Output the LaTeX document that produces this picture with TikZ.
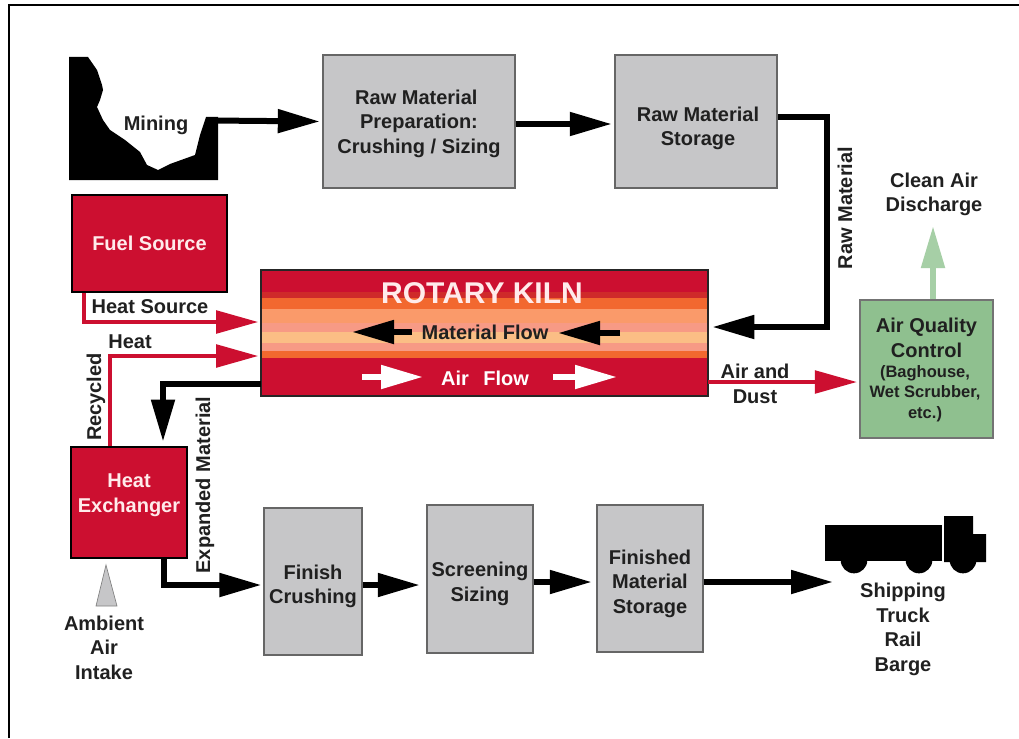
\documentclass[tikz,border=0pt]{standalone}
\usepackage{xcolor}
\usepackage{fontspec}
\setmainfont{Liberation Sans}
\usetikzlibrary{arrows.meta,positioning,calc}
\definecolor{kilnred}{HTML}{CC0F30}
\definecolor{kilndark}{HTML}{CF2A2A}
\definecolor{kilnorange}{HTML}{F2682F}
\definecolor{kilnlight}{HTML}{FA9A6A}
\definecolor{kilnsalmon}{HTML}{F79A85}
\definecolor{kilnpeach}{HTML}{FBBE85}
\definecolor{boxgray}{HTML}{C6C6C8}
\definecolor{boxgreen}{HTML}{8FC08F}
\definecolor{airgreen}{HTML}{A6CFA6}
\definecolor{inkdark}{HTML}{202020}

\begin{document}
\begin{tikzpicture}[
  x=0.75pt,y=-0.75pt,
  every node/.style={font=\fontsize{15}{18.4}\selectfont\bfseries,text=inkdark,align=center,inner sep=0pt},
  graybox/.style={draw=black!60,line width=0.8pt,fill=boxgray,minimum width=#1},
  redbox/.style={draw=black,line width=2pt,fill=kilnred,text=white!92!red,minimum width=#1},
  sink/.style={execute at begin node=\rule{0pt}{#1}},
  lift/.style={execute at end node=\rule[-#1]{0pt}{0pt}},
  flow/.style={line width=4.5pt,draw=black,-{Triangle[length=31.5pt,width=17pt]}},
  heatflow/.style={line width=2.6pt,draw=kilnred,-{Triangle[length=31.5pt,width=17pt]}},
  airflow/.style={flow,draw=#1},
  gap/.style={shorten >=#1}
]
\useasboundingbox (0,0) rectangle (1019,738);
\fill[white] (0,0) rectangle (1019,738);
% frame
\draw[line width=1.6pt] (9,738) -- (9,5) -- (1019,5);

% mining cut
\fill[black] (69,57) -- (88,57) -- (97,70) -- (102,85) -- (103,90) -- (100,100) -- (97,107)
  -- (103,120) -- (110,130) -- (125,140) -- (140,152) -- (147,165) -- (158,170) -- (170,164)
  -- (195,155) -- (200,135) -- (206,117) -- (218,117) -- (218,180) -- (69,180) -- cycle;
\node (mining) at (156,125) {Mining};
\coordinate (minetop) at (211,120.5);

% top row
\node[graybox=192*0.75pt,minimum height=99.75pt,sink=50.7pt] (prep) at (419,121.5) {\hspace*{-4pt}Raw Material\\Preparation:\\Crushing / Sizing};
\node[graybox=162*0.75pt,minimum height=99.75pt,sink=39.8pt] (rawstore) at (696,121.5) {\hspace*{3pt}Raw Material\\\hspace*{3pt}Storage};
\draw[flow,gap=2pt] (minetop) -- (prep.west);
\draw[flow,gap=2pt] (prep.east |- 0,124) -- (rawstore.west |- 0,124);

% kiln
\node[draw=none,minimum width=335.25pt,minimum height=94.5pt] (kiln) at (484.5,333) {};
\foreach \ya/\yb/\col in {270/292/kilnred,292/298/kilndark,298/309/kilnorange,309/323/kilnlight,
  323/332/kilnsalmon,332/343/kilnpeach,343/351/kilnsalmon,351/358/kilnorange,358/396/kilnred} {
  \fill[\col] (261,\ya) rectangle (708,\yb);
}
\draw[line width=1.6pt,black!85] (kiln.south west) rectangle (kiln.north east);
\node[font=\fontsize{22.5}{26}\selectfont\bfseries,text=white!92!red] (title) at (482,293) {ROTARY KILN};
\node (matflow) at (485,332) {Material Flow};
\node[text=white] (airtxt) at (485,378) {Air\hspace{0.45em} Flow};
\coordinate (ma) at (412,332);
\coordinate (mb) at (352,332);
\coordinate (mc) at (620,333);
\coordinate (md) at (558,333);
\coordinate (aa) at (362,377);
\coordinate (ab) at (423,377);
\coordinate (ac) at (553,377);
\coordinate (ad) at (617,377);
\draw[flow] (ma) -- (mb);
\draw[flow] (mc) -- (md);
\draw[airflow=white] (aa) -- (ab);
\draw[airflow=white] (ac) -- (ad);

% fuel and heat
\node[redbox=155*0.75pt,minimum height=72.75pt] (fuel) at (149.5,243.5) {Fuel Source};
\node[redbox=116*0.75pt,minimum height=83.25pt,lift=13.7pt] (hx) at (129,502.5) {Heat\\Exchanger};
\coordinate (fuelbend) at (84,322);
\coordinate (recbend) at (110,356);
\draw[heatflow,gap=2pt] (fuel.south -| fuelbend) -- (fuelbend) -- (kiln.west |- fuelbend);
\draw[heatflow,gap=2pt] (hx.north -| recbend) -- (recbend) -- (kiln.west |- recbend);
\node (heatsrc) at (150,307) {Heat Source};
\node (heat) at (130,342) {Heat};
\node[rotate=90] (recycled) at (96,397) {Recycled};

\coordinate (kilnout) at (163,384);
\draw[flow,gap=3pt] (kiln.west |- kilnout) -- (kilnout) -- (hx.north -| kilnout);
\node[rotate=90] (expanded) at (205,485) {Expanded Material};

% air intake
\node (ambient) at (104,647.5) {Ambient\\Air\\Intake};
\fill[boxgray,draw=black!50,line width=0.5pt] (106,565) -- (117,606) -- (96,606) -- cycle;

% bottom row
\node[graybox=98*0.75pt,minimum height=110.25pt,sink=36.8pt] (crush) at (313,581.5) {Finish\\Crushing};
\node[graybox=106*0.75pt,minimum height=111pt,sink=36.8pt] (screen) at (480,579) {Screening\\Sizing};
\node[graybox=106*0.75pt,minimum height=110.25pt,sink=55.2pt] (finstore) at (650,578.5) {Finished\\Material\\Storage};
\coordinate (hxbend) at (164,585);
\draw[flow,gap=1.5pt] (hx.south -| hxbend) -- (hxbend) -- (crush.west |- hxbend);
\draw[flow,gap=5pt] (crush.east |- 0,585) -- (screen.west |- 0,585);
\draw[flow,gap=3.5pt] (screen.east |- 0,582) -- (finstore.west |- 0,582);
\coordinate (shipend) at (833,582);
\draw[flow] (finstore.east |- shipend) -- (shipend);

% truck
\fill[black] (825,525) rectangle (942,561);
\fill[black] (944,516) -- (973,516) -- (973,534) -- (986,534) -- (986,562) -- (944,562) -- cycle;
\foreach \wx in {854,919,963} {
  \fill[black] (\wx,560) circle[radius=10pt];
}
\node (ship) at (903,629.5) {Shipping\\Truck\\Rail\\Barge};

% raw material return
\coordinate (rawa) at (827,117);
\coordinate (rawb) at (827,327);
\draw[flow,gap=3pt] (rawstore.east |- rawa) -- (rawa) -- (rawb) -- (kiln.east |- rawb);
\node[rotate=90] (rawlbl) at (845,208) {Raw Material};

% air quality
\node[draw=black!55,line width=0.8pt,fill=boxgreen,minimum width=99.75pt,minimum height=103.5pt] (aqc) at (926.5,369) {};
\node (aqctxt) at (926.5,338) {Air Quality\\Control};
\node[font=\fontsize{12.4}{15.5}\selectfont\bfseries] (aqcsub) at (925,393.5) {(Baghouse,\\Wet Scrubber,\\etc.)};
\coordinate (dustout) at (708,382);
\draw[heatflow,gap=2pt] (kiln.east |- dustout) -- (aqc.west |- dustout);
\node (airdust) at (755,384) {Air and\\Dust};
\draw[airflow=airgreen] (aqc.north -| 933,0) -- (933,226);
\node (clean) at (934,194.5) {Clean Air\\Discharge};
\end{tikzpicture}
\end{document}
